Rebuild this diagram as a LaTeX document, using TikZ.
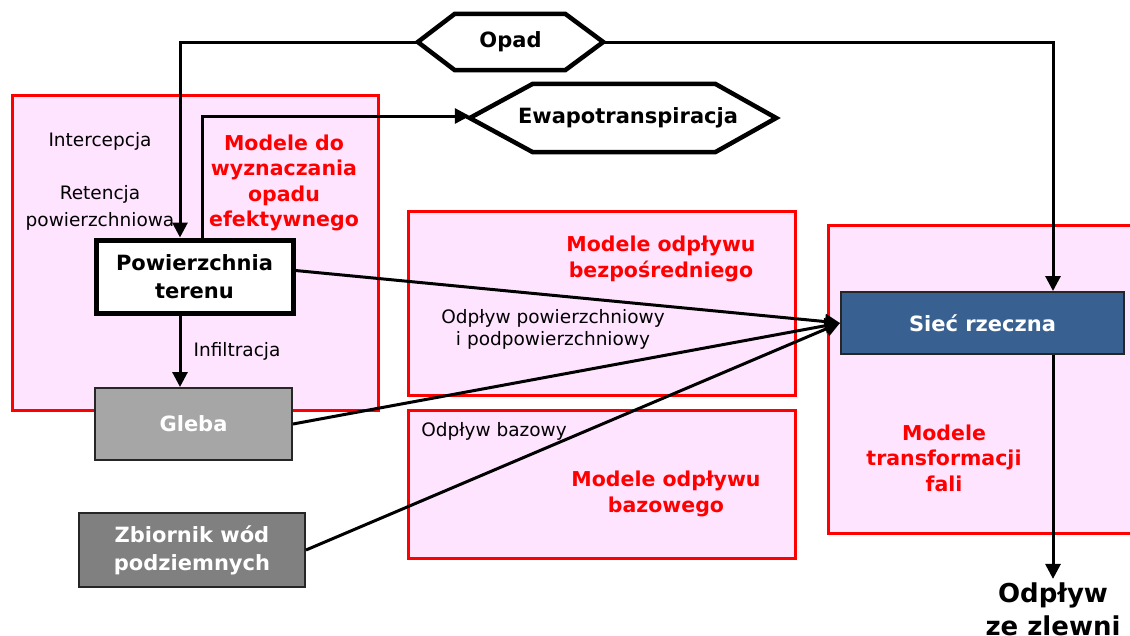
\documentclass[tikz,border=0pt]{standalone}
\usepackage{fontspec}
\setmainfont{DejaVu Sans}
\usepackage{xcolor}
\usetikzlibrary{arrows.meta,positioning,calc}
\definecolor{pinkfill}{HTML}{FFE4FF}
\definecolor{riverblue}{HTML}{386192}
\definecolor{soilgray}{HTML}{A6A6A6}
\definecolor{groundgray}{HTML}{808080}

\begin{document}
\begin{tikzpicture}[x=1pt, y=-1pt,
    modelbox/.style={draw=red, line width=3pt, fill=pinkfill, inner sep=0pt},
    modeltext/.style={text=red, font=\bfseries\fontsize{20.5}{25.5}\selectfont, align=center},
    plaintext/.style={font=\fontsize{18.5}{23}\selectfont, align=center},
    hexbox/.style={inner sep=0pt, font=\bfseries\fontsize{21}{24}\selectfont},
    hexline/.style={draw, line width=4.5pt, line join=miter},
    graybox/.style={draw=black!85, line width=2pt, text=white, font=\bfseries\fontsize{21}{28}\selectfont, align=center},
    flow/.style={line width=3pt, -{Triangle[length=15pt,width=15pt]}},
    ]
    \useasboundingbox (0,0) rectangle (1130,635);

    \node (leftbox) [modelbox, minimum width=366pt, minimum height=315pt] at (195,252.5) {};
    \node (directbox) [modelbox, minimum width=387pt, minimum height=184pt] at (601.5,303) {};
    \node (basebox) [modelbox, minimum width=387pt, minimum height=148pt] at (601.5,484) {};
    \node (wavebox) [modelbox, minimum width=307pt, minimum height=308pt] at (981.5,379) {};

    \node (opad) [hexbox, minimum width=185pt, minimum height=56pt] at (510.5,42) {Opad};
    \draw [hexline] (opad.west) -- ([xshift=37pt]opad.north west) -- ([xshift=-38pt]opad.north east) -- (opad.east)
        -- ([xshift=-38pt]opad.south east) -- ([xshift=37pt]opad.south west) -- cycle;
    \node (ewa) [hexbox, minimum width=306pt, minimum height=68pt] at (623,118) {\hspace{10pt}Ewapotranspiracja};
    \draw [hexline] (ewa.west) -- ([xshift=63pt]ewa.north west) -- ([xshift=-61pt]ewa.north east) -- (ewa.east)
        -- ([xshift=-61pt]ewa.south east) -- ([xshift=63pt]ewa.south west) -- cycle;

    \node (surface) [draw, line width=5pt, fill=white, minimum width=197pt, minimum height=73pt, align=center, font=\bfseries\fontsize{21}{28}\selectfont] at (194.5,276.5) {Powierzchnia\\terenu};
    \node (soil) [graybox, fill=soilgray, minimum width=197pt, minimum height=72pt] at (193.5,424) {Gleba};
    \node (ground) [graybox, fill=groundgray, minimum width=226pt, minimum height=74pt] at (192,550) {Zbiornik wód\\podziemnych};
    \node (river) [draw=black!85, line width=2pt, fill=riverblue, text=white, minimum width=283pt, minimum height=62pt, font=\bfseries\fontsize{21}{24}\selectfont] at (982.5,323) {Sieć rzeczna};
    \node (outflow) [font=\bfseries\fontsize{26}{33}\selectfont, align=center] at (1053,609) {Odpływ\\ze zlewni};

    \node (intercept) [plaintext] at (100,141) {Intercepcja};
    \node (retention) [plaintext, font=\fontsize{18.5}{27}\selectfont] at (100,208) {Retencja\\powierzchniowa};
    \node (infiltr) [plaintext] at (237,351) {Infiltracja};
    \node (surfflow) [plaintext, font=\fontsize{18.5}{22}\selectfont] at (553,329) {Odpływ powierzchniowy\\i podpowierzchniowy};
    \node (baseflow) [plaintext] at (494,431) {Odpływ bazowy};

    \node (effmodel) [modeltext] at (284,183) {Modele do\\wyznaczania\\opadu\\efektywnego};
    \node (dirmodel) [modeltext] at (661,259) {Modele odpływu\\bezpośredniego};
    \node (basemodel) [modeltext] at (666,494) {Modele odpływu\\bazowego};
    \node (wavemodel) [modeltext] at (944,458) {Modele\\transformacji\\fali};

    \draw [flow] (opad.west) -| ([xshift=-14.5pt]surface.north);
    \draw [flow] (opad.east) -| ([xshift=70.5pt]river.north);
    \draw [flow] ([xshift=7.5pt]surface.north) |- ([yshift=2pt]ewa.west);
    \draw [flow] ([xshift=-14.5pt]surface.south) -- ([xshift=-14.5pt]surface.south |- soil.north);
    \draw [flow] ([xshift=70.5pt]river.south) -- ([xshift=70.5pt]river.south |- outflow.north);
    \draw [flow] ([yshift=6pt]surface.east) -- (river.west);
    \draw [flow] (soil.east) -- (river.west);
    \draw [flow] (ground.east) -- (river.west);
\end{tikzpicture}
\end{document}
